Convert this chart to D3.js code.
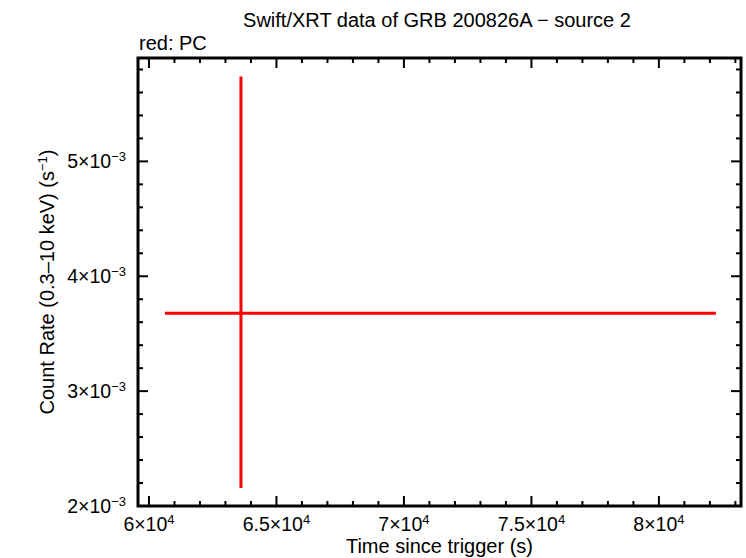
<!DOCTYPE html>
<html>
<head>
<meta charset="utf-8">
<script src="https://cdn.jsdelivr.net/npm/d3@7"></script>
<style>
  body { margin: 0; background: #fff; }
  svg { font-family: "Liberation Sans", Arial, sans-serif; }
</style>
</head>
<body>
<svg width="746" height="558"></svg>
<script>
// data
const times = [63608];
const timeLo = [60627];
const timeHi = [82235];
const rates = [3.677e-3];
const rateLo = [2.157e-3];
const rateHi = [5.738e-3];

const xTicks = [60000, 65000, 70000, 75000, 80000];
const xTickLabels = ['6', '6.5', '7', '7.5', '8'];
const yTicks = [0.002, 0.003, 0.004, 0.005];
const yTickLabels = ['2', '3', '4', '5'];

const svg = d3.select('svg');
const margin = { left: 138, right: 5, top: 58, bottom: 52 };
const width = 746 - margin.left - margin.right;
const height = 558 - margin.top - margin.bottom;

const x = d3.scaleLinear().domain([59570, 83220]).range([0, width]);
const y = d3.scaleLinear().domain([0.002, 0.0059]).range([height, 0]);

const g = svg.append('g').attr('transform', `translate(${margin.left},${margin.top})`);

// minor ticks, all four sides
const xMinor = d3.range(60000, 83001, 1000);
const yMinor = d3.range(0.002, 0.00591, 0.0002);

const tickG = g.append('g').attr('stroke', '#000').attr('stroke-width', 2);
xMinor.forEach(v => {
  const major = xTicks.includes(v);
  const len = major ? 10 : 5;
  tickG.append('line').attr('x1', x(v)).attr('x2', x(v)).attr('y1', height).attr('y2', height - len);
  tickG.append('line').attr('x1', x(v)).attr('x2', x(v)).attr('y1', 0).attr('y2', len);
});
yMinor.forEach(v => {
  const major = yTicks.some(t => Math.abs(t - v) < 1e-9);
  const len = major ? 10 : 5;
  tickG.append('line').attr('y1', y(v)).attr('y2', y(v)).attr('x1', 0).attr('x2', len);
  tickG.append('line').attr('y1', y(v)).attr('y2', y(v)).attr('x1', width).attr('x2', width - len);
});

// frame
g.append('rect')
  .attr('width', width).attr('height', height)
  .attr('fill', 'none').attr('stroke', '#000').attr('stroke-width', 3);

// x tick labels
xTicks.forEach((v, i) => {
  const t = g.append('text')
    .attr('x', x(v)).attr('y', height + 25)
    .attr('text-anchor', 'middle').attr('font-size', 19.5);
  t.append('tspan').text(xTickLabels[i] + '\u00d710');
  t.append('tspan').attr('font-size', 13).attr('dy', -7).text('4');
});

// y tick labels
yTicks.forEach((v, i) => {
  const t = g.append('text')
    .attr('x', -12).attr('y', y(v) + 7)
    .attr('text-anchor', 'end').attr('font-size', 19.5);
  t.append('tspan').text(yTickLabels[i] + '\u00d710');
  t.append('tspan').attr('font-size', 13).attr('dy', -7).text('\u22123');
});

// error bars
const pts = times.map((t, i) => ({ t, lo: timeLo[i], hi: timeHi[i], r: rates[i], rlo: rateLo[i], rhi: rateHi[i] }));
g.selectAll('line.xerr').data(pts).enter().append('line')
  .attr('class', 'xerr')
  .attr('x1', d => x(d.lo)).attr('x2', d => x(d.hi))
  .attr('y1', d => y(d.r)).attr('y2', d => y(d.r))
  .attr('stroke', '#ff0000').attr('stroke-width', 3);
g.selectAll('line.yerr').data(pts).enter().append('line')
  .attr('class', 'yerr')
  .attr('x1', d => x(d.t)).attr('x2', d => x(d.t))
  .attr('y1', d => y(d.rlo)).attr('y2', d => y(d.rhi))
  .attr('stroke', '#ff0000').attr('stroke-width', 3);

// titles
svg.append('text')
  .attr('x', 437).attr('y', 27).attr('text-anchor', 'middle').attr('font-size', 20)
  .text('Swift/XRT data of GRB 200826A \u2212 source 2');
svg.append('text')
  .attr('x', 139).attr('y', 50).attr('font-size', 20)
  .text('red: PC');

svg.append('text')
  .attr('x', margin.left + width / 2).attr('y', 553).attr('text-anchor', 'middle').attr('font-size', 20)
  .text('Time since trigger (s)');

const yl = svg.append('text')
  .attr('transform', `translate(54,${margin.top + height / 2}) rotate(-90)`)
  .attr('text-anchor', 'middle').attr('font-size', 20);
yl.append('tspan').text('Count Rate (0.3\u201310 keV) (s');
yl.append('tspan').attr('font-size', 13).attr('dy', -7).text('\u22121');
yl.append('tspan').attr('dy', 7).text(')');
</script>
</body>
</html>
